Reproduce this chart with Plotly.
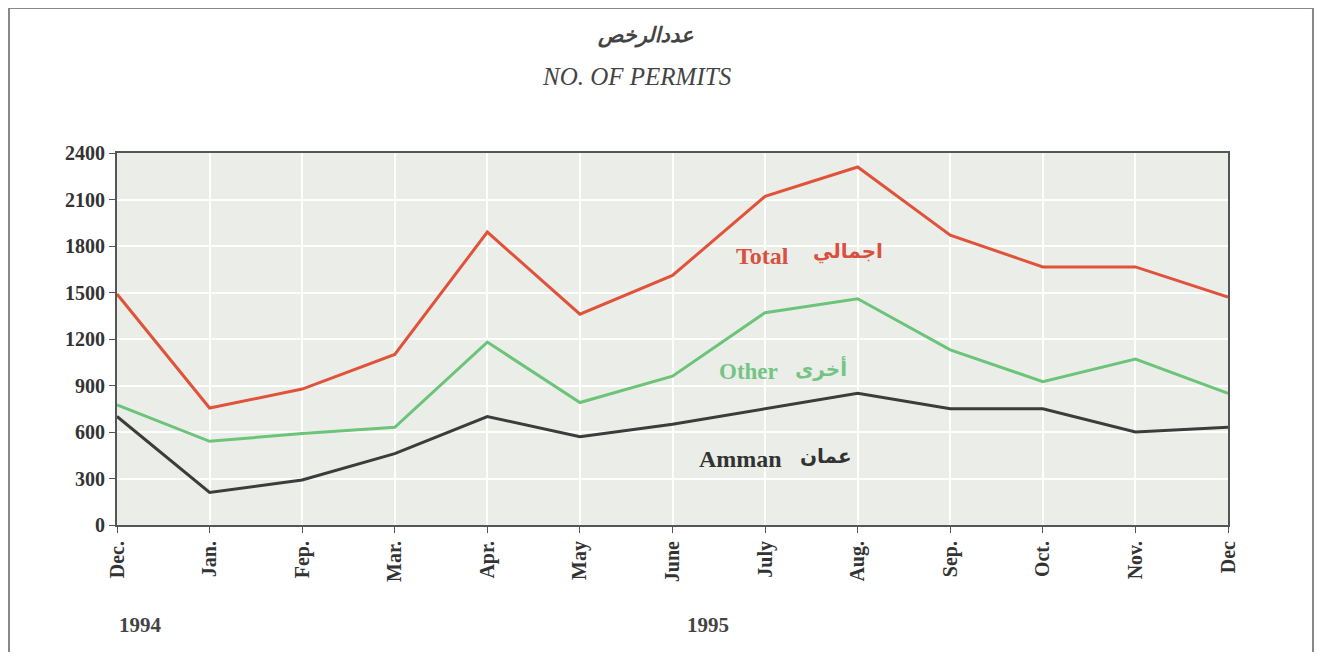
import plotly.graph_objects as go

months = ["Dec.", "Jan.", "Fep.", "Mar.", "Apr.", "May", "June",
          "July", "Aug.", "Sep.", "Oct.", "Nov.", "Dec"]
total = [1490, 755, 877, 1100, 1890, 1360, 1610, 2120, 2310, 1870, 1665, 1665, 1470]
other = [775, 540, 590, 630, 1180, 790, 960, 1370, 1460, 1130, 925, 1070, 850]
amman = [700, 210, 290, 460, 700, 570, 650, 750, 850, 750, 750, 600, 630]
y_ticks = [0, 300, 600, 900, 1200, 1500, 1800, 2100, 2400]

serif = "Liberation Serif, Times New Roman, serif"
arabic = "DejaVu Sans, Noto Sans, sans-serif"

# page has an 8px body margin, so the figure is a bit smaller than the window
fig = go.Figure(layout=dict(width=1317, height=644))
fig.add_trace(go.Scatter(x=months, y=total, mode="lines",
                         line=dict(color="#e0533a", width=3), name="Total"))
fig.add_trace(go.Scatter(x=months, y=other, mode="lines",
                         line=dict(color="#6cc47a", width=3), name="Other"))
fig.add_trace(go.Scatter(x=months, y=amman, mode="lines",
                         line=dict(color="#3c3c3c", width=3), name="Amman"))

fig.update_layout(
    margin=dict(l=109, r=97, t=145, b=127),
    paper_bgcolor="white",
    plot_bgcolor="#ebeee8",
    showlegend=False,
)
fig.update_xaxes(type="category", range=[0, 12], tickangle=-90,
                 tickfont=dict(family=serif, size=20, color="#333", weight="bold"),
                 showgrid=True, gridcolor="white", gridwidth=2,
                 showline=True, linecolor="#555", linewidth=2, mirror=True,
                 ticks="outside", ticklen=6, tickcolor="#555")
fig.update_yaxes(range=[0, 2400], tickvals=y_ticks,
                 tickfont=dict(family=serif, size=20, color="#333", weight="bold"),
                 showgrid=True, gridcolor="white", gridwidth=2, zeroline=False,
                 showline=True, linecolor="#555", linewidth=2, mirror=True,
                 ticks="outside", ticklen=6, tickcolor="#555")

# outer frame
fig.add_shape(type="rect", xref="paper", yref="paper",
              x0=-0.0972, x1=1.0765, y0=-0.38, y1=1.39,
              line=dict(color="#888", width=2), layer="below")

notes = [
    dict(x=0.476, y=1.356, xref="paper", yref="paper", text="<i><b>عددالرخص</b></i>",
         font=dict(family=arabic, size=21, color="#444")),
    dict(x=0.468, y=1.248, xref="paper", yref="paper", text="<i>NO. OF PERMITS</i>",
         font=dict(family=serif, size=25, color="#444")),
    dict(x=0.0, y=-0.307, xref="paper", yref="paper", text="<b>1994</b>",
         font=dict(family=serif, size=21, color="#444")),
    dict(x=0.532, y=-0.307, xref="paper", yref="paper", text="<b>1995</b>",
         font=dict(family=serif, size=21, color="#444")),
    dict(x=6.97, y=1735, text="<b>Total</b>",
         font=dict(family=serif, size=24, color="#d9503f")),
    dict(x=7.9, y=1765, text="<b>اجمالي</b>",
         font=dict(family=arabic, size=20, color="#d9503f")),
    dict(x=6.82, y=990, text="<b>Other</b>",
         font=dict(family=serif, size=23, color="#74c485")),
    dict(x=7.6, y=1015, text="<b>أخرى</b>",
         font=dict(family=arabic, size=20, color="#74c485")),
    dict(x=6.73, y=426, text="<b>Amman</b>",
         font=dict(family=serif, size=24, color="#333")),
    dict(x=7.66, y=445, text="<b>عمان</b>",
         font=dict(family=arabic, size=20, color="#333")),
]
for n in notes:
    fig.add_annotation(showarrow=False, **n)

fig.write_html("out.html")
